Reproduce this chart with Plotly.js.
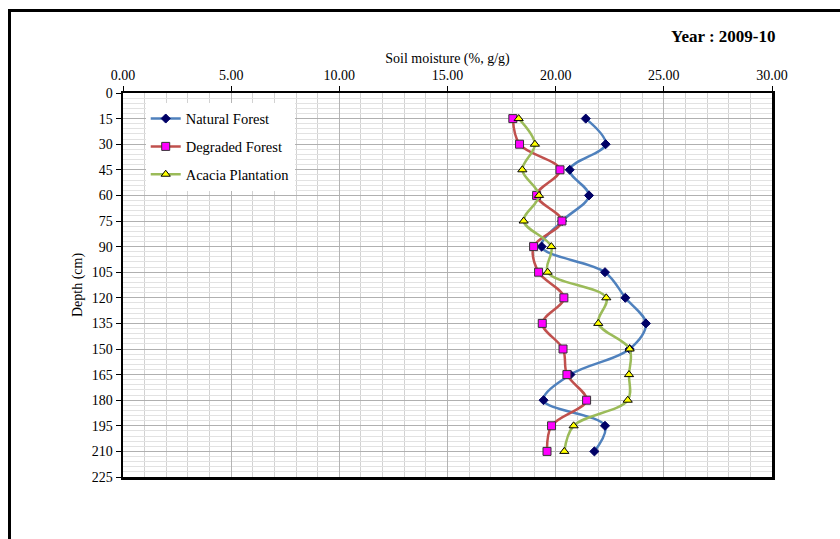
<!DOCTYPE html>
<html>
<head>
<meta charset="utf-8">
<script src="https://cdn.plot.ly/plotly-3.0.1.min.js"></script>
<style>
  html, body { margin: 0; padding: 0; background: #fff; }
  #wrap { position: relative; width: 840px; height: 539px; overflow: hidden; }
  #chart { position: absolute; left: 0; top: 0; width: 840px; height: 539px; }
  #frame { position: absolute; left: 8px; top: 9px; width: 840px; height: 540px;
           border-top: 3px solid #000; border-left: 3px solid #000; pointer-events: none; }
</style>
</head>
<body>
<div id="wrap">
  <div id="chart"></div>
  <div id="frame"></div>
</div>
<script>
// Sampling depths (cm)
const depths = [15, 30, 45, 60, 75, 90, 105, 120, 135, 150, 165, 180, 195, 210];

// Soil moisture (%, g/g) by land use
const naturalForest   = [21.39, 22.31, 20.65, 21.54, 20.30, 19.35, 22.28, 23.22, 24.17, 23.42, 20.68, 19.44, 22.28, 21.79];
const degradedForest  = [18.02, 18.33, 20.20, 19.12, 20.29, 18.98, 19.21, 20.38, 19.38, 20.34, 20.52, 21.43, 19.81, 19.60];
const acaciaPlantation = [18.29, 19.04, 18.46, 19.23, 18.52, 19.80, 19.63, 22.34, 21.97, 23.42, 23.39, 23.33, 20.83, 20.40];

const depthTicks = [0, 15, 30, 45, 60, 75, 90, 105, 120, 135, 150, 165, 180, 195, 210, 225];
const moistureTicks = [0, 5, 10, 15, 20, 25, 30];

const serif = 'Liberation Serif, Times New Roman, serif';

function series(name, values, lineColor, symbol, fill, outline, size, group) {
  return {
    type: 'scatter',
    mode: 'lines+markers',
    name: name,
    x: values,
    y: depths,
    legendgroup: group,
    line: { color: lineColor, width: 2.5, shape: 'spline', smoothing: 1 },
    marker: { symbol: symbol, color: fill, size: size, line: { color: outline, width: 1 } }
  };
}

const traces = [
  series('Natural Forest', naturalForest, '#4F81BD', 'diamond', '#000066', '#000066', 7, 'a'),
  series('Degraded Forest', degradedForest, '#C0504D', 'square', '#FF00FF', '#333333', 8, 'b'),
  series('Acacia Plantation', acaciaPlantation, '#9BBB59', 'triangle-up', '#FFFF00', '#000000', 8, 'c')
];

const layout = {
  width: 840,
  height: 539,
  margin: { l: 123, r: 68, t: 93, b: 62 },
  paper_bgcolor: '#ffffff',
  plot_bgcolor: '#ffffff',
  font: { family: serif, size: 14, color: '#000' },
  showlegend: true,
  legend: {
    x: 0.035, y: 0.975, xanchor: 'left', yanchor: 'top',
    bgcolor: '#ffffff',
    font: { family: serif, size: 14.5, color: '#000' },
    tracegroupgap: 6,
    itemwidth: 30
  },
  xaxis: {
    side: 'top',
    range: [0, 30],
    tickvals: moistureTicks,
    tickformat: '.2f',
    ticks: 'outside', ticklen: 5, tickcolor: '#000', tickwidth: 1,
    showline: true, linecolor: '#000', linewidth: 2.5, mirror: true,
    showgrid: true, gridcolor: '#b4b4b4', gridwidth: 1,
    minor: { dtick: 1, showgrid: true, gridcolor: '#d2d2d2', gridwidth: 1 },
    zeroline: false,
    tickfont: { family: serif, size: 14 },
    title: { text: 'Soil moisture (%, g/g)', font: { family: serif, size: 14 }, standoff: 1 }
  },
  yaxis: {
    range: [225, 0],
    tickvals: depthTicks,
    ticks: 'outside', ticklen: 5, tickcolor: '#000', tickwidth: 1,
    showline: true, linecolor: '#000', linewidth: 2.5, mirror: true,
    showgrid: true, gridcolor: '#b0b0b0', gridwidth: 1,
    minor: { dtick: 3, showgrid: true, gridcolor: '#e2e2e2', gridwidth: 1 },
    zeroline: false,
    tickfont: { family: serif, size: 14 },
    title: { text: 'Depth (cm)', font: { family: serif, size: 14 }, standoff: 6 }
  },
  annotations: [{
    text: '<b>Year : 2009-10</b>',
    xref: 'paper', yref: 'paper',
    x: 1.01, y: 1.148, xanchor: 'right', yanchor: 'middle',
    showarrow: false,
    font: { family: serif, size: 17, color: '#000' }
  }]
};

Plotly.newPlot('chart', traces, layout, { displayModeBar: false, staticPlot: true });
</script>
</body>
</html>
